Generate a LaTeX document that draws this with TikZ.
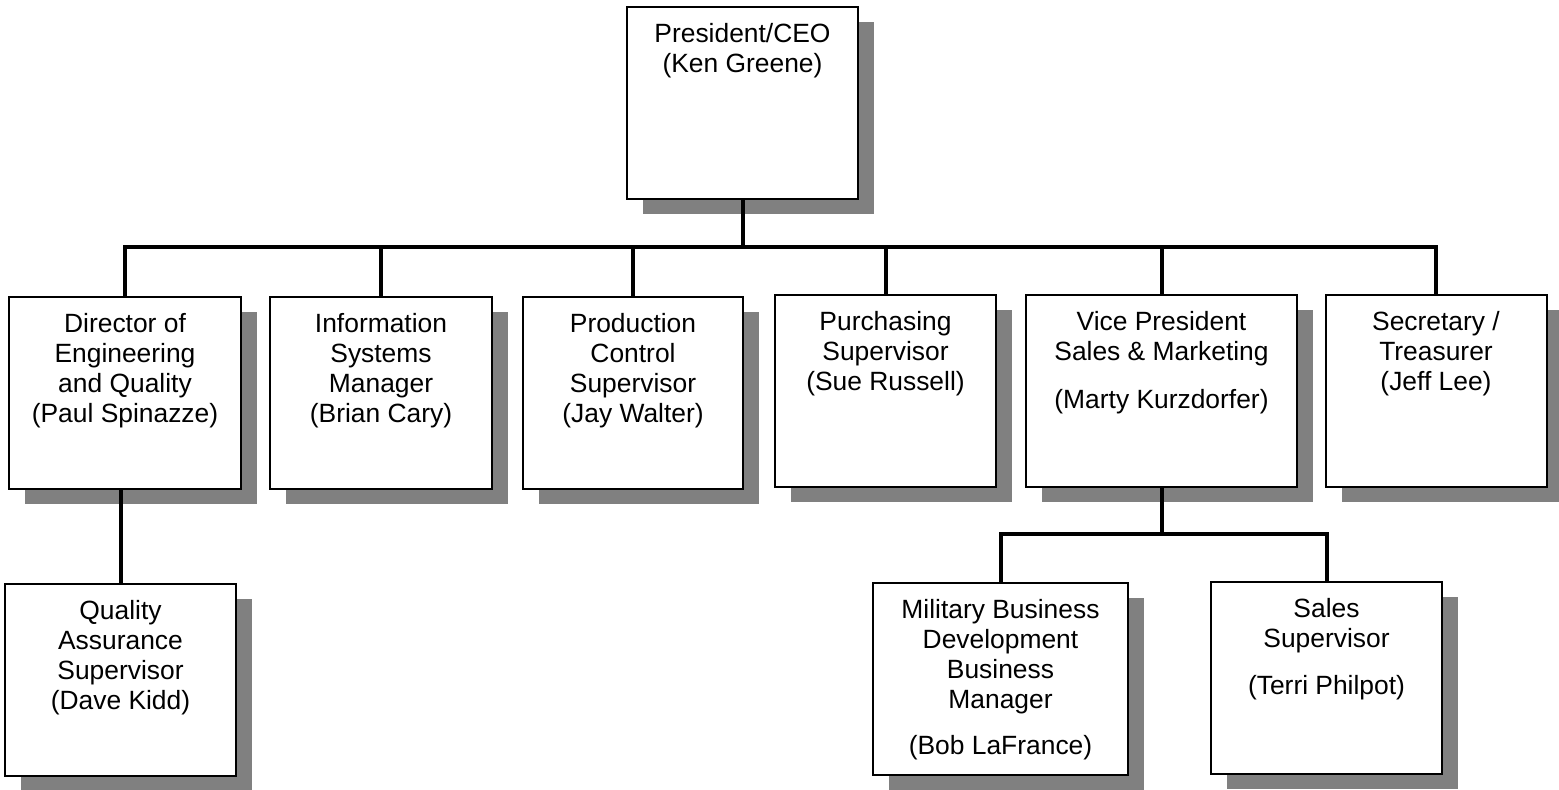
\documentclass[tikz,border=0pt]{standalone}
\usepackage{fontspec}
\setmainfont{Liberation Sans}
\usetikzlibrary{shadows}

\tikzset{
  orgbox/.style={draw, line width=1pt, fill=white, inner sep=0pt, minimum height=96pt,
    drop shadow={shadow xshift=8pt, shadow yshift=-7.5pt, fill=black!50, opacity=1}},
  orgtext/.style={anchor=north, align=center, inner sep=0pt,
    font=\fontsize{13.2}{15}\selectfont},
  conn/.style={line width=2pt}
}

\begin{document}
\begin{tikzpicture}[x=0.5pt,y=-0.5pt]
\useasboundingbox (0,0) rectangle (1559,789);

% boxes
\node[orgbox,minimum width=115.5pt] (ceo) at (742.5,103) {};
\node[orgbox,minimum width=116pt] (dir) at (125,392.5) {};
\node[orgbox,minimum width=111pt] (info) at (381,392.5) {};
\node[orgbox,minimum width=110pt] (prod) at (633,392.5) {};
\node[orgbox,minimum width=110.5pt] (purch) at (885.5,391) {};
\node[orgbox,minimum width=135.5pt] (vp) at (1161.5,391) {};
\node[orgbox,minimum width=110.5pt] (sec) at (1436,391) {};
\node[orgbox,minimum width=115.5pt] (qa) at (120.5,679.5) {};
\node[orgbox,minimum width=127.5pt] (mil) at (1000.5,679) {};
\node[orgbox,minimum width=115.5pt] (sales) at (1326.5,678) {};

% texts
\node[orgtext] (ceo-t) at ([yshift=-8.5pt]ceo.north) {President/CEO\\(Ken Greene)};
\node[orgtext] (dir-t) at ([yshift=-8.5pt]dir.north) {Director of\\Engineering\\and Quality\\(Paul Spinazze)};
\node[orgtext] (info-t) at ([yshift=-8.5pt]info.north) {Information\\Systems\\Manager\\(Brian Cary)};
\node[orgtext] (prod-t) at ([yshift=-8.5pt]prod.north) {Production\\Control\\Supervisor\\(Jay Walter)};
\node[orgtext] (purch-t) at ([yshift=-8.5pt]purch.north) {Purchasing\\Supervisor\\(Sue Russell)};
\node[orgtext] (vp-t) at ([yshift=-8.5pt]vp.north) {Vice President\\Sales \& Marketing\\[9pt](Marty Kurzdorfer)};
\node[orgtext] (sec-t) at ([yshift=-8.5pt]sec.north) {Secretary /\\Treasurer\\(Jeff Lee)};
\node[orgtext] (qa-t) at ([yshift=-8.5pt]qa.north) {Quality\\Assurance\\Supervisor\\(Dave Kidd)};
\node[orgtext] (mil-t) at ([yshift=-8.5pt]mil.north) {Military Business\\Development\\Business\\Manager\\[8pt](Bob LaFrance)};
\node[orgtext] (sales-t) at ([yshift=-8.5pt]sales.north) {Sales\\Supervisor\\[8.5pt](Terri Philpot)};

% connectors
\coordinate (bus) at (742.5,247);
\coordinate (vpbus) at (1161.5,534);
\draw[conn] (ceo.south) -- (bus);
\foreach \n in {dir,info,prod,purch,vp,sec}
  \draw[conn] (bus) -| (\n.north);
\draw[conn] (vp.south) -- (vpbus);
\foreach \n in {mil,sales}
  \draw[conn] (vpbus) -| (\n.north);
\draw[conn] (qa.north |- dir.south) -- (qa.north);
\end{tikzpicture}
\end{document}
